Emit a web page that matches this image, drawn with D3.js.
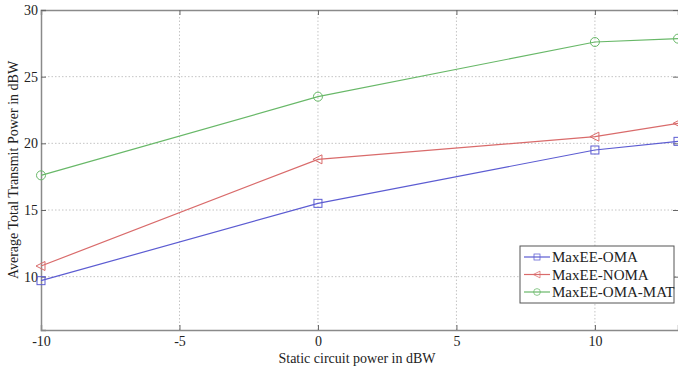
<!DOCTYPE html>
<html><head><meta charset="utf-8">
<script src="https://cdn.jsdelivr.net/npm/d3@7"></script>
<style>body{margin:0;background:#fff}text{font-family:"Liberation Serif","Times New Roman",serif;fill:#222}</style>
</head><body><svg id="c" width="678" height="368"></svg>
<script>
const xValues = [-10, 0, 10, 13];
const omaValues = [9.7, 15.5, 19.5, 20.15];
const nomaValues = [10.8, 18.8, 20.5, 21.5];
const matValues = [17.6, 23.5, 27.6, 27.85];
const seriesNames = ["MaxEE-OMA", "MaxEE-NOMA", "MaxEE-OMA-MAT"];
const xTicks = [-10, -5, 0, 5, 10];
const yTicks = [10, 15, 20, 25, 30];

const series = [
  {name: seriesNames[0], values: omaValues, color: "#5c5cd2", marker: "square"},
  {name: seriesNames[1], values: nomaValues, color: "#d96b6b", marker: "triangle"},
  {name: seriesNames[2], values: matValues, color: "#68b868", marker: "circle"}
];

const svg = d3.select("#c");
const m = {l: 41, r: 0, t: 10, b: 38};
const W = 678, H = 368;
const x = d3.scaleLinear().domain([-10, 13]).range([m.l, W - m.r]);
const y = d3.scaleLinear().domain([6, 30]).range([H - m.b, m.t]);
const axisColor = "#8a8a8a";
const fmt = d => String(d);

// grid
const g = svg.append("g");
g.selectAll(".gx").data(xTicks.slice(1)).enter().append("line")
  .attr("x1", d => x(d)).attr("x2", d => x(d)).attr("y1", y(6)).attr("y2", y(30))
  .attr("stroke", "#c4c4c4").attr("stroke-dasharray", "1.5,2").attr("stroke-width", 1);
g.selectAll(".gy").data(yTicks.slice(0, -1)).enter().append("line")
  .attr("x1", x(-10)).attr("x2", x(13)).attr("y1", d => y(d)).attr("y2", d => y(d))
  .attr("stroke", "#c4c4c4").attr("stroke-dasharray", "1.5,2").attr("stroke-width", 1);

// axes
const xa = svg.append("g").attr("transform", `translate(0,${y(6)})`)
  .call(d3.axisBottom(x).tickValues(xTicks).tickSize(-5).tickPadding(6).tickFormat(fmt));
const xt = svg.append("g").attr("transform", `translate(0,${y(30)})`)
  .call(d3.axisTop(x).tickValues(xTicks).tickSize(-5).tickFormat(""));
const ya = svg.append("g").attr("transform", `translate(${x(-10)},0)`)
  .call(d3.axisLeft(y).tickValues(yTicks).tickSize(-5).tickPadding(4).tickFormat(fmt));
const yr = svg.append("g").attr("transform", `translate(${x(13)},0)`)
  .call(d3.axisRight(y).tickValues(yTicks).tickSize(-5).tickFormat(""));
yr.select(".domain").remove();
[xa, xt, ya, yr].forEach(a => {
  a.selectAll("path").attr("stroke", axisColor).attr("stroke-width", 1.5);
  a.selectAll("line").attr("stroke", "#666");
  a.selectAll("text").attr("font-size", 14).style("font-family", '"Liberation Serif",serif').attr("fill", "#222");
});
ya.selectAll("text").attr("dx", 1);

// lines
const line = d3.line().x((d, i) => x(xValues[i])).y(d => y(d));
function marker(sel, type, color) {
  if (type === "square") {
    sel.append("rect").attr("x", -4).attr("y", -4).attr("width", 8).attr("height", 8);
  } else if (type === "circle") {
    sel.append("circle").attr("r", 4.5);
  } else {
    sel.append("path").attr("d", "M-5,0L4,-4.5L4,4.5Z");
  }
  sel.selectAll("*").attr("fill", "none").attr("stroke", color).attr("stroke-width", 1);
}
series.forEach(s => {
  svg.append("path").attr("d", line(s.values)).attr("fill", "none")
    .attr("stroke", s.color).attr("stroke-width", 1.2);
  s.values.forEach((v, i) => {
    const mk = svg.append("g").attr("transform", `translate(${x(xValues[i])},${y(v)})`);
    marker(mk, s.marker, s.color);
  });
});

// legend
const lg = svg.append("g").attr("transform", "translate(520,246)");
lg.append("rect").attr("width", 154).attr("height", 57).attr("fill", "#fff").attr("stroke", "#555").attr("stroke-width", 1);
series.forEach((s, i) => {
  const row = lg.append("g").attr("transform", `translate(0,${11 + i * 17.5})`);
  row.append("line").attr("x1", 4).attr("x2", 30).attr("stroke", s.color).attr("stroke-width", 1.2);
  const mk = row.append("g");
  marker(mk, s.marker, s.color);
  mk.attr("transform", "translate(17,0) scale(0.75)");
  row.append("text").attr("x", 32).attr("y", 5).attr("font-size", 15).text(s.name);
});

// labels
svg.append("text").attr("x", 357).attr("y", 363).attr("text-anchor", "middle").attr("font-size", 14)
  .text("Static circuit power in dBW");
svg.append("text").attr("transform", `translate(18,${(y(6) + y(30)) / 2}) rotate(-90)`)
  .attr("text-anchor", "middle").attr("font-size", 14).text("Average Total Transmit Power in dBW");
</script></body></html>
